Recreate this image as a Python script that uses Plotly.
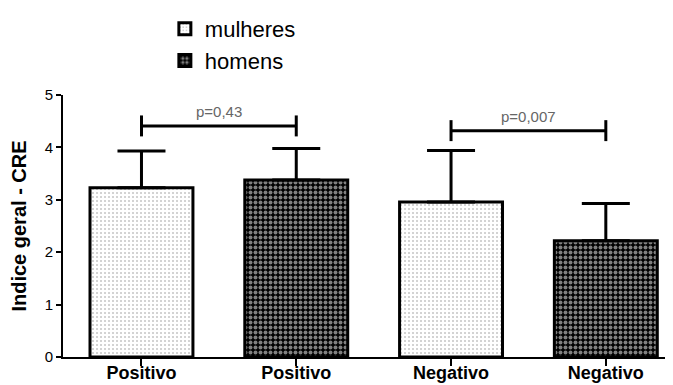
import plotly.graph_objects as go

# ---- data ----
categories = ["Positivo", "Positivo", "Negativo", "Negativo"]
x_pos = [0, 1, 2, 3]
groups = ["mulheres", "homens"]
mulheres_x = [0, 2]
mulheres_mean = [3.23, 2.96]
mulheres_sd = [0.70, 0.98]
homens_x = [1, 3]
homens_mean = [3.38, 2.22]
homens_sd = [0.60, 0.71]
bracket_pairs = [(0, 1), (2, 3)]
bracket_y = [4.41, 4.32]
bracket_labels = ["p=0,43", "p=0,007"]
y_ticks = [0, 1, 2, 3, 4, 5]

FONT = "Liberation Sans, Arial, sans-serif"

fig = go.Figure()

fig.add_trace(go.Bar(
    x=mulheres_x, y=mulheres_mean, name=groups[0], width=0.665,
    marker=dict(color="white", line=dict(color="black", width=3),
                pattern=dict(shape=".", fgcolor="#8a8a8a", bgcolor="white",
                             size=4, solidity=0.2)),
    error_y=dict(type="data", array=mulheres_sd, arrayminus=[0, 0], symmetric=False,
                 color="black", thickness=3, width=24),
))
fig.add_trace(go.Bar(
    x=homens_x, y=homens_mean, name=groups[1], width=0.665,
    marker=dict(color="black", line=dict(color="black", width=3),
                pattern=dict(shape=".", fgcolor="white", bgcolor="black",
                             size=5, solidity=0.5)),
    error_y=dict(type="data", array=homens_sd, arrayminus=[0, 0], symmetric=False,
                 color="black", thickness=3, width=24),
))

tick_h = 0.2
for (a, b), yb, lab in zip(bracket_pairs, bracket_y, bracket_labels):
    xa, xb = x_pos[a], x_pos[b]
    fig.add_shape(type="line", x0=xa, x1=xb, y0=yb, y1=yb,
                  line=dict(color="black", width=3), xref="x", yref="y")
    for xx in (xa, xb):
        fig.add_shape(type="line", x0=xx, x1=xx, y0=yb - tick_h, y1=yb + tick_h,
                      line=dict(color="black", width=3), xref="x", yref="y")
    fig.add_annotation(x=(xa + xb) / 2, y=yb, text=lab, showarrow=False,
                       yanchor="bottom", yshift=4,
                       font=dict(family=FONT, size=15, color="#666666"))

# The page adds an 8px body margin, so the figure is 8px smaller than the window.
fig.update_layout(
    width=665, height=377,
    margin=dict(l=55, r=0, t=87, b=28),
    paper_bgcolor="white", plot_bgcolor="white",
    barmode="overlay",
    showlegend=True,
    legend=dict(x=0.167, y=1.332, xanchor="left", yanchor="top",
                font=dict(family=FONT, size=22, color="black"),
                bgcolor="rgba(0,0,0,0)", tracegroupgap=0),
    font=dict(family=FONT, color="black"),
)
fig.update_xaxes(
    range=[-0.507, 3.434], tickvals=x_pos, ticktext=[f"<b>{c}</b>" for c in categories],
    showline=True, linecolor="black", linewidth=2, ticks="outside", ticklen=7,
    tickwidth=2, tickcolor="black", showgrid=False, zeroline=False,
    tickfont=dict(family=FONT, size=18, color="black"), automargin=False,
    ticklabelstandoff=-9,
)
fig.update_yaxes(
    range=[0, 5], tickvals=y_ticks, showline=True, linecolor="black", linewidth=2,
    ticks="outside", ticklen=5, tickwidth=2, tickcolor="black",
    showgrid=False, zeroline=False, automargin=False,
    tickprefix="<b>", ticksuffix="</b>",
    tickfont=dict(family=FONT, size=15, color="black"),
    title=dict(text="<b>Indice geral - CRE</b>", standoff=22,
               font=dict(family=FONT, size=20, color="black")),
)

fig.write_html("out.html")
